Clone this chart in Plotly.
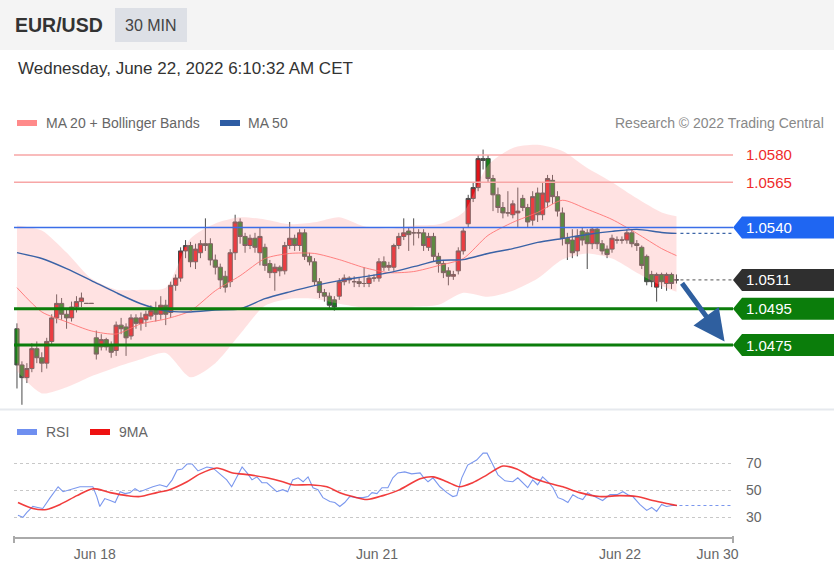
import plotly.graph_objects as go

W, H = 834, 571

# ---------------- data ----------------
bar_open = [1.0484, 1.0464, 1.0457, 1.0462, 1.0473, 1.0468, 1.0465, 1.0477, 1.0490, 1.0498,
            1.0492, 1.0490, 1.0496, 1.0499, 1.0498, 1.0498, 1.0479, 1.0474, 1.0478, 1.0475,
            1.0472, 1.0486, 1.0485, 1.0480, 1.0490, 1.0487, 1.0489, 1.0491, 1.0495, 1.0492,
            1.0497, 1.0493, 1.0508, 1.0512, 1.0527, 1.0530, 1.0521, 1.0526, 1.0531, 1.0531,
            1.0522, 1.0518, 1.0513, 1.0510, 1.0526, 1.0543, 1.0535, 1.0530, 1.0534, 1.0526,
            1.0529, 1.0520, 1.0515, 1.0518, 1.0516, 1.0530, 1.0534, 1.0530, 1.0537, 1.0524,
            1.0521, 1.0510, 1.0504, 1.0502, 1.0500, 1.0502, 1.0510, 1.0512, 1.0510, 1.0510,
            1.0509, 1.0509, 1.0512, 1.0512, 1.0521, 1.0518, 1.0518, 1.0530, 1.0535, 1.0538,
            1.0537, 1.0537, 1.0537, 1.0529, 1.0535, 1.0524, 1.0520, 1.0516, 1.0513, 1.0516,
            1.0527, 1.0542, 1.0556, 1.0562, 1.0578, 1.0578, 1.0567, 1.0558, 1.0551, 1.0548,
            1.0547, 1.0548, 1.0556, 1.0551, 1.0544, 1.0559, 1.0547, 1.0554, 1.0566, 1.0557,
            1.0548, 1.0534, 1.0533, 1.0527, 1.0538, 1.0537, 1.0531, 1.0539, 1.0531, 1.0528,
            1.0528, 1.0533, 1.0533, 1.0533, 1.0537, 1.0531, 1.0529, 1.0524, 1.0514, 1.0507,
            1.0514, 1.0509, 1.0514, 1.0511]
bar_high = [1.0487, 1.0466, 1.0465, 1.0476, 1.0477, 1.0471, 1.0479, 1.0492, 1.0503, 1.0501,
            1.0495, 1.0499, 1.0502, 1.0504, 1.0498, 1.0498, 1.0483, 1.0481, 1.0479, 1.0477,
            1.0488, 1.0490, 1.0487, 1.0492, 1.0492, 1.0493, 1.0494, 1.0497, 1.0499, 1.0502,
            1.0500, 1.0510, 1.0514, 1.0529, 1.0533, 1.0532, 1.0531, 1.0533, 1.0545, 1.0534,
            1.0525, 1.0520, 1.0516, 1.0528, 1.0547, 1.0545, 1.0537, 1.0536, 1.0537, 1.0540,
            1.0531, 1.0522, 1.0520, 1.0519, 1.0532, 1.0543, 1.0536, 1.0539, 1.0539, 1.0526,
            1.0523, 1.0512, 1.0506, 1.0504, 1.0502, 1.0512, 1.0514, 1.0513, 1.0513, 1.0512,
            1.0518, 1.0514, 1.0514, 1.0523, 1.0524, 1.0521, 1.0531, 1.0537, 1.0545, 1.0540,
            1.0545, 1.0539, 1.0539, 1.0537, 1.0537, 1.0526, 1.0522, 1.0518, 1.0516, 1.0529,
            1.0540, 1.0558, 1.0565, 1.0580, 1.0583, 1.0580, 1.0569, 1.0562, 1.0554, 1.0560,
            1.0555, 1.0562, 1.0558, 1.0553, 1.0560, 1.0562, 1.0565, 1.0569, 1.0569, 1.0560,
            1.0551, 1.0537, 1.0539, 1.0539, 1.0540, 1.0539, 1.0540, 1.0540, 1.0533, 1.0530,
            1.0536, 1.0535, 1.0535, 1.0539, 1.0539, 1.0533, 1.0530, 1.0525, 1.0516, 1.0515,
            1.0515, 1.0515, 1.0515, 1.0514]
bar_low = [1.0451, 1.0442, 1.0454, 1.0460, 1.0465, 1.0460, 1.0462, 1.0475, 1.0487, 1.0489,
           1.0484, 1.0488, 1.0493, 1.0496, 1.0498, 1.0498, 1.0467, 1.0472, 1.0472, 1.0468,
           1.0469, 1.0481, 1.0469, 1.0478, 1.0484, 1.0483, 1.0485, 1.0489, 1.0488, 1.0489,
           1.0486, 1.0490, 1.0505, 1.0510, 1.0523, 1.0518, 1.0517, 1.0523, 1.0527, 1.0519,
           1.0514, 1.0506, 1.0504, 1.0507, 1.0522, 1.0531, 1.0526, 1.0528, 1.0526, 1.0519,
           1.0516, 1.0512, 1.0505, 1.0513, 1.0514, 1.0528, 1.0527, 1.0527, 1.0522, 1.0519,
           1.0508, 1.0501, 1.0499, 1.0495, 1.0494, 1.0500, 1.0508, 1.0509, 1.0507, 1.0507,
           1.0507, 1.0507, 1.0510, 1.0510, 1.0516, 1.0516, 1.0516, 1.0528, 1.0533, 1.0527,
           1.0530, 1.0534, 1.0527, 1.0527, 1.0521, 1.0515, 1.0512, 1.0508, 1.0511, 1.0514,
           1.0525, 1.0540, 1.0554, 1.0560, 1.0572, 1.0565, 1.0549, 1.0548, 1.0545, 1.0546,
           1.0545, 1.0540, 1.0549, 1.0540, 1.0541, 1.0543, 1.0544, 1.0551, 1.0553, 1.0546,
           1.0530, 1.0522, 1.0523, 1.0524, 1.0530, 1.0517, 1.0528, 1.0528, 1.0525, 1.0523,
           1.0526, 1.0531, 1.0531, 1.0531, 1.0529, 1.0527, 1.0517, 1.0508, 1.0507, 1.0499,
           1.0506, 1.0505, 1.0506, 1.0509]
bar_close = [1.0464, 1.0457, 1.0462, 1.0473, 1.0468, 1.0465, 1.0477, 1.0490, 1.0498, 1.0492,
             1.0490, 1.0496, 1.0499, 1.0501, 1.0498, 1.0498, 1.0470, 1.0478, 1.0474, 1.0471,
             1.0486, 1.0484, 1.0479, 1.0490, 1.0487, 1.0490, 1.0492, 1.0494, 1.0492, 1.0497,
             1.0492, 1.0508, 1.0512, 1.0527, 1.0530, 1.0521, 1.0528, 1.0531, 1.0530, 1.0522,
             1.0518, 1.0511, 1.0507, 1.0526, 1.0543, 1.0535, 1.0530, 1.0534, 1.0529, 1.0535,
             1.0519, 1.0515, 1.0518, 1.0516, 1.0530, 1.0534, 1.0530, 1.0537, 1.0524, 1.0521,
             1.0510, 1.0504, 1.0502, 1.0497, 1.0496, 1.0510, 1.0512, 1.0511, 1.0510, 1.0509,
             1.0509, 1.0512, 1.0512, 1.0521, 1.0518, 1.0519, 1.0530, 1.0535, 1.0537, 1.0536,
             1.0537, 1.0537, 1.0530, 1.0535, 1.0524, 1.0520, 1.0515, 1.0513, 1.0514, 1.0527,
             1.0538, 1.0556, 1.0562, 1.0578, 1.0577, 1.0567, 1.0558, 1.0551, 1.0548, 1.0548,
             1.0553, 1.0549, 1.0551, 1.0543, 1.0557, 1.0547, 1.0559, 1.0567, 1.0557, 1.0549,
             1.0534, 1.0531, 1.0526, 1.0535, 1.0533, 1.0531, 1.0539, 1.0531, 1.0527, 1.0525,
             1.0534, 1.0533, 1.0533, 1.0537, 1.0531, 1.0530, 1.0519, 1.0510, 1.0510, 1.0514,
             1.0510, 1.0514, 1.0509, 1.0511]
bar_idx = list(range(len(bar_close)))

band_idx = [0, 5, 10, 15, 20, 25, 30, 35, 40, 45, 50, 55, 60, 65, 70, 75, 80, 85, 90, 95,
            100, 105, 110, 115, 120, 125, 130, 133]
ma20 = [1.05067, 1.04933, 1.04878, 1.04828, 1.04811, 1.04867, 1.04894, 1.04939, 1.0505, 1.05133,
        1.05228, 1.05256, 1.05256, 1.05222, 1.05178, 1.0515, 1.05156, 1.05189, 1.05228, 1.05356,
        1.05428, 1.05483, 1.0555, 1.0550, 1.05444, 1.05367, 1.05283, 1.05244]
band_upper = [1.05411, 1.05383, 1.05261, 1.05117, 1.05056, 1.05056, 1.05067, 1.05339, 1.05422, 1.05456,
              1.05444, 1.05417, 1.05428, 1.05456, 1.05406, 1.05394, 1.05411, 1.05417, 1.05483, 1.05744,
              1.05839, 1.05856, 1.05822, 1.05728, 1.0565, 1.05561, 1.05483, 1.05461]
band_lower = [1.04606, 1.04483, 1.04517, 1.04578, 1.04628, 1.04672, 1.04706, 1.04572, 1.0465, 1.04811,
              1.04967, 1.05006, 1.05006, 1.04978, 1.04956, 1.04956, 1.04961, 1.04972, 1.05039, 1.05017,
              1.0505, 1.05117, 1.05222, 1.05256, 1.05228, 1.0515, 1.05078, 1.05044]
ma50 = [1.05261, 1.05228, 1.05172, 1.05106, 1.05039, 1.04978, 1.04939, 1.04933, 1.04944, 1.0495,
        1.05006, 1.05044, 1.05078, 1.05106, 1.05128, 1.0515, 1.05183, 1.05217, 1.05222, 1.05256,
        1.05283, 1.05317, 1.05339, 1.05361, 1.05378, 1.05389, 1.05372, 1.05367]

rsi_idx = [0.2, 1.2, 2.0, 3.2, 4.2, 5.2, 6.7, 8.3, 9.3, 10.7, 12.7, 15.3, 16.1, 16.7, 17.7, 18.8,
           19.8, 20.8, 21.8, 22.8, 23.8, 24.8, 26.2, 27.4, 28.8, 30.2, 31.3, 32.3, 33.3, 34.3, 35.3,
           36.5, 38.3, 39.5, 40.9, 42.3, 43.3, 44.4, 45.4, 46.4, 47.4, 48.4, 49.4, 50.4, 51.4, 52.4,
           53.6, 54.6, 55.6, 56.7, 57.7, 58.7, 59.7, 60.7, 61.7, 63.1, 64.1, 65.1, 66.1, 67.1, 68.5,
           69.8, 70.8, 71.6, 72.6, 73.6, 74.8, 75.8, 76.8, 78.2, 79.6, 81.3, 81.9, 82.9, 83.9, 85.3,
           86.7, 87.9, 88.7, 89.7, 90.9, 92.7, 94.0, 94.8, 95.8, 97.0, 98.4, 100.0, 101.0, 102.0,
           103.0, 104.0, 105.0, 106.0, 107.1, 108.1, 109.1, 110.1, 111.1, 112.1, 113.1, 114.1, 115.1,
           116.1, 117.1, 118.1, 119.6, 121.0, 122.2, 123.2, 124.2, 125.6, 127.0, 128.0, 129.0, 130.0,
           131.0, 132.1, 133.1]
rsi_val = [31.5, 30.0, 33.6, 38.0, 37.3, 36.5, 44.5, 52.5, 48.9, 50.4, 52.5, 52.5, 45.3, 38.0, 43.8,
           42.4, 40.9, 48.9, 47.5, 48.2, 51.1, 48.9, 51.1, 52.5, 54.0, 52.5, 57.6, 64.9, 65.6, 69.3,
           69.3, 64.2, 67.1, 66.4, 62.0, 57.6, 52.5, 59.8, 67.1, 62.7, 57.6, 59.8, 55.5, 55.5, 52.5,
           48.9, 50.4, 48.9, 57.6, 59.1, 56.2, 59.8, 51.8, 50.4, 44.5, 41.6, 40.9, 38.0, 40.9, 45.3,
           44.5, 44.5, 45.3, 48.2, 47.5, 51.8, 51.8, 59.1, 62.7, 63.5, 62.0, 62.7, 59.8, 56.2, 59.1,
           52.5, 48.2, 45.3, 46.0, 59.1, 68.5, 72.2, 77.3, 77.3, 70.0, 61.3, 56.9, 56.2, 59.1, 55.5,
           51.8, 57.6, 54.0, 59.8, 56.2, 51.8, 44.5, 43.1, 40.9, 46.7, 44.5, 43.1, 48.2, 46.0, 44.5,
           42.4, 46.7, 46.7, 48.9, 46.7, 45.3, 39.5, 35.1, 37.3, 34.4, 39.5, 38.0, 38.7, 38.7]
ma9_idx = [0.2, 3.2, 6.0, 8.7, 12.1, 15.3, 18.8, 22.2, 24.8, 28.2, 30.8, 34.3, 36.9, 40.3, 43.5,
           47.0, 50.4, 53.6, 55.6, 59.1, 62.5, 65.1, 67.7, 70.6, 73.8, 77.2, 81.3, 83.9, 86.7, 89.3,
           91.9, 94.8, 98.0, 100.8, 104.0, 106.9, 110.1, 113.5, 117.5, 121.6, 125.0, 128.2, 131.0, 133.1]
ma9_val = [40.9, 36.5, 35.8, 39.5, 46.0, 51.1, 48.2, 46.0, 45.3, 48.2, 50.4, 56.2, 62.0, 66.4, 62.7,
           61.3, 59.1, 56.2, 54.0, 54.0, 52.5, 48.2, 45.3, 43.1, 46.0, 50.4, 58.4, 59.8, 56.2, 52.5,
           55.5, 61.3, 67.8, 65.6, 59.1, 55.5, 52.5, 48.2, 45.3, 46.0, 45.3, 42.4, 40.2, 38.7]

resistance_levels = [1.0580, 1.0565]
pivot_level = 1.0540
last_price = 1.0511
support_levels = [1.0495, 1.0475]
arrow_x = [133.9, 142.7]
arrow_y = [1.0510, 1.0477]

date_ticks = [15.7, 72.6, 121.6, 141.3]
date_labels = ["Jun 18", "Jun 21", "Jun 22", "Jun 30"]
rsi_ticks = [30, 50, 70]

# ---------------- layout helpers ----------------
FONT = "Liberation Sans, Arial, sans-serif"
X_RANGE = [-0.6, 144.4]
PX_PER_UNIT = 18100.0


def fx(px):
    return px / W


def fy(py):
    return 1 - py / H


GREEN = "#0b7d0b"
BLUE_LVL = "#3a6ee8"
BLUE_TAG = "#1f66f2"
RED_LVL = "#f7a6a6"
RED_TXT = "#ee2b2b"

fig = go.Figure()

# Bollinger band
fig.add_trace(go.Scatter(x=band_idx, y=band_upper, mode="lines",
                         line=dict(width=0, shape="spline", smoothing=0.7),
                         hoverinfo="skip", showlegend=False))
fig.add_trace(go.Scatter(x=band_idx, y=band_lower, mode="lines",
                         line=dict(width=0, shape="spline", smoothing=0.7),
                         fill="tonexty", fillcolor="rgba(255,160,160,0.30)",
                         hoverinfo="skip", showlegend=False))
fig.add_trace(go.Scatter(x=band_idx, y=ma20, mode="lines",
                         line=dict(color="rgba(255,110,110,0.85)", width=1, shape="spline", smoothing=0.7),
                         hoverinfo="skip", showlegend=False))
fig.add_trace(go.Scatter(x=band_idx, y=ma50, mode="lines",
                         line=dict(color="#3a62a6", width=1.4, shape="spline", smoothing=0.7),
                         hoverinfo="skip", showlegend=False))

fig.add_trace(go.Candlestick(
    x=bar_idx, open=bar_open, high=bar_high, low=bar_low, close=bar_close,
    increasing=dict(line=dict(color="#4a4a4a", width=1), fillcolor="#e3141a"),
    decreasing=dict(line=dict(color="#4a4a4a", width=1), fillcolor="#17801a"),
    whiskerwidth=0, hoverinfo="skip", showlegend=False))

# RSI panel
fig.add_trace(go.Scatter(x=rsi_idx, y=rsi_val, mode="lines", xaxis="x2", yaxis="y2",
                         line=dict(color="#7a97ee", width=1.1),
                         hoverinfo="skip", showlegend=False))
fig.add_trace(go.Scatter(x=ma9_idx, y=ma9_val, mode="lines", xaxis="x2", yaxis="y2",
                         line=dict(color="rgba(240,40,40,0.9)", width=1.6, shape="spline", smoothing=0.8),
                         hoverinfo="skip", showlegend=False))

shapes = []
annotations = []

# header band
shapes.append(dict(type="rect", xref="paper", yref="paper", x0=0, x1=1, y0=fy(50), y1=1,
                   fillcolor="#f4f4f4", line=dict(width=0), layer="below"))
shapes.append(dict(type="rect", xref="paper", yref="paper", x0=fx(115), x1=fx(187),
                   y0=fy(42), y1=fy(8), fillcolor="#dde0e6", line=dict(width=0), layer="below"))
# separator
shapes.append(dict(type="line", xref="paper", yref="paper", x0=0, x1=1, y0=fy(409.5), y1=fy(409.5),
                   line=dict(color="#e6e9ee", width=2)))

# legend swatches
for (x0, x1, yc, col) in [(17, 37, 123, "#ff8a8a"), (220, 240, 123, "#2d5ca3"),
                          (17, 37, 432, "#6f8ff0"), (90, 110, 432, "#ee1111")]:
    shapes.append(dict(type="rect", xref="paper", yref="paper", x0=fx(x0), x1=fx(x1),
                       y0=fy(yc + 3), y1=fy(yc - 3), fillcolor=col, line=dict(width=0)))

x_left, x_right = fx(14), fx(733)

# level lines
for lv in resistance_levels:
    shapes.append(dict(type="line", xref="paper", yref="y", x0=x_left, x1=x_right, y0=lv, y1=lv,
                       line=dict(color=RED_LVL, width=1.5), layer="above"))
    annotations.append(dict(xref="paper", yref="y", x=fx(744), y=lv, text=f"{lv:.4f}",
                            showarrow=False, xanchor="left", yanchor="middle",
                            font=dict(family=FONT, size=15, color=RED_TXT)))
shapes.append(dict(type="line", xref="paper", yref="y", x0=x_left, x1=x_right, y0=pivot_level,
                   y1=pivot_level, line=dict(color=BLUE_LVL, width=1.5), layer="above"))
for lv in support_levels:
    shapes.append(dict(type="line", xref="paper", yref="y", x0=x_left, x1=x_right, y0=lv, y1=lv,
                       line=dict(color=GREEN, width=3), layer="above"))

# dotted extensions
last_i = bar_idx[-1]
shapes.append(dict(type="line", xref="x", yref="y", x0=last_i + 0.8, x1=X_RANGE[1],
                   y0=last_price, y1=last_price, line=dict(color="#777", width=1.2, dash="dot")))
shapes.append(dict(type="line", xref="x", yref="y", x0=band_idx[-1] + 0.8, x1=X_RANGE[1],
                   y0=ma50[-1], y1=ma50[-1], line=dict(color="#3d66a8", width=1.2, dash="dot")))
shapes.append(dict(type="line", xref="x2", yref="y2", x0=rsi_idx[-1] + 0.5, x1=X_RANGE[1],
                   y0=rsi_val[-1], y1=rsi_val[-1], line=dict(color="#7a97ee", width=1.2, dash="dot")))

# price tags
half = 11.0 / PX_PER_UNIT
for lv, col in [(pivot_level, BLUE_TAG), (last_price, "#2f2f2f"),
                (support_levels[0], GREEN), (support_levels[1], GREEN)]:
    p = (f"M {fx(733)},{lv} L {fx(742)},{lv + half} L 1,{lv + half} "
         f"L 1,{lv - half} L {fx(742)},{lv - half} Z")
    shapes.append(dict(type="path", xref="paper", yref="y", path=p, fillcolor=col,
                       line=dict(width=0), layer="above"))
    annotations.append(dict(xref="paper", yref="y", x=fx(744), y=lv, text=f"{lv:.4f}",
                            showarrow=False, xanchor="left", yanchor="middle",
                            font=dict(family=FONT, size=15, color="white")))

# bracket ticks at ends of bottom axis
for xp in (14, 733):
    shapes.append(dict(type="line", xref="paper", yref="paper", x0=fx(xp), x1=fx(xp),
                       y0=fy(536), y1=fy(543), line=dict(color="#aaaaaa", width=2)))

# forecast arrow
annotations.append(dict(xref="x", yref="y", axref="x", ayref="y",
                        x=arrow_x[1], y=arrow_y[1], ax=arrow_x[0], ay=arrow_y[0],
                        text="", showarrow=True, arrowhead=2, arrowsize=1.25,
                        arrowwidth=5, arrowcolor="#2f5f9f", standoff=0))

# texts
annotations += [
    dict(xref="paper", yref="paper", x=fx(13), y=fy(25), text="<b>EUR/USD</b>", showarrow=False,
         xanchor="left", yanchor="middle", font=dict(family=FONT, size=19.5, color="#333")),
    dict(xref="paper", yref="paper", x=fx(151), y=fy(25), text="30 MIN", showarrow=False,
         xanchor="center", yanchor="middle", font=dict(family=FONT, size=16, color="#444")),
    dict(xref="paper", yref="paper", x=fx(16), y=fy(68),
         text="Wednesday, June 22, 2022 6:10:32 AM CET", showarrow=False,
         xanchor="left", yanchor="middle", font=dict(family=FONT, size=17, color="#333")),
    dict(xref="paper", yref="paper", x=fx(44), y=fy(123), text="MA 20 + Bollinger Bands",
         showarrow=False, xanchor="left", yanchor="middle",
         font=dict(family=FONT, size=14, color="#666")),
    dict(xref="paper", yref="paper", x=fx(246), y=fy(123), text="MA 50",
         showarrow=False, xanchor="left", yanchor="middle",
         font=dict(family=FONT, size=14, color="#666")),
    dict(xref="paper", yref="paper", x=fx(826), y=fy(123), text="Research © 2022 Trading Central",
         showarrow=False, xanchor="right", yanchor="middle",
         font=dict(family=FONT, size=14, color="#888")),
    dict(xref="paper", yref="paper", x=fx(44), y=fy(432), text="RSI",
         showarrow=False, xanchor="left", yanchor="middle",
         font=dict(family=FONT, size=14, color="#666")),
    dict(xref="paper", yref="paper", x=fx(117), y=fy(432), text="9MA",
         showarrow=False, xanchor="left", yanchor="middle",
         font=dict(family=FONT, size=14, color="#666")),
]

y_top = 1.0580 + 15 / PX_PER_UNIT
y_bot = 1.0580 - 250 / PX_PER_UNIT

fig.update_layout(
    template="none",
    width=W, height=H, autosize=False,
    margin=dict(l=0, r=0, t=0, b=0, pad=0, autoexpand=False),
    paper_bgcolor="white", plot_bgcolor="rgba(0,0,0,0)",
    font=dict(family=FONT),
    showlegend=False, hovermode=False,
    boxgap=0.0, boxgroupgap=0.15,
    xaxis=dict(domain=[x_left, x_right], range=X_RANGE, visible=False, anchor="y",
               automargin=False, rangeslider=dict(visible=False), fixedrange=True),
    yaxis=dict(domain=[fy(405), fy(140)], range=[y_bot, y_top], visible=False, anchor="x",
               automargin=False, fixedrange=True),
    xaxis2=dict(domain=[x_left, x_right], range=X_RANGE, anchor="y2", showline=True,
                automargin=False,
                linecolor="#aaaaaa", linewidth=2, showgrid=False, zeroline=False,
                tickvals=date_ticks, ticktext=date_labels, ticks="", ticklabelstandoff=3,
                tickfont=dict(family=FONT, size=14, color="#666"), fixedrange=True),
    yaxis2=dict(domain=[fy(537), fy(445)], range=[15.5, 83.3], anchor="x2", side="right",
                automargin=False,
                tickvals=rsi_ticks, ticks="", showgrid=True, gridcolor="#c8c8c8", griddash="dot",
                gridwidth=1, zeroline=False, showline=False, ticklabelstandoff=12,
                tickfont=dict(family=FONT, size=14, color="#666"), fixedrange=True),
    shapes=shapes, annotations=annotations,
)

fig.write_html("out.html", include_plotlyjs=True,
               config={"displayModeBar": False, "responsive": False},
               post_script="document.body.style.margin='0';document.body.style.overflow='hidden';")
